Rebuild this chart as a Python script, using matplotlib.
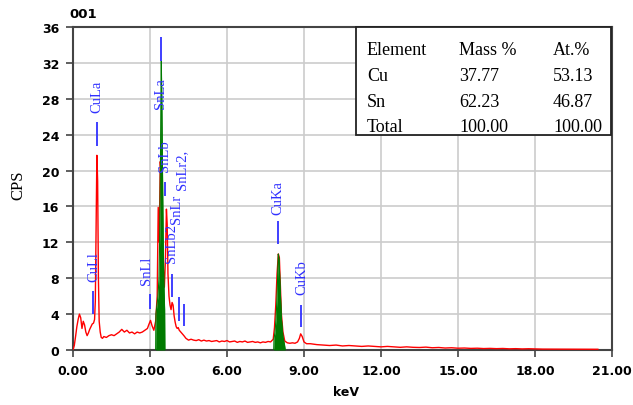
"""EDS spectrum of a Cu-Sn sample (sample 001) with element table."""

import matplotlib
matplotlib.use("Agg")
import matplotlib.pyplot as plt
from matplotlib.patches import Rectangle

spec_kev = [
    0.00, 0.05, 0.10, 0.15, 0.20, 0.25, 0.30, 0.35, 0.40, 0.45, 0.50, 0.55, 0.60,
    0.65, 0.70, 0.75, 0.80, 0.84, 0.87, 0.90, 0.93, 0.96, 0.99, 1.02, 1.06, 1.10,
    1.15, 1.20, 1.30, 1.40, 1.50, 1.60, 1.70, 1.80, 1.90, 2.00, 2.10, 2.20, 2.30,
    2.40, 2.50, 2.60, 2.70, 2.80, 2.90, 2.95, 3.02, 3.08, 3.15, 3.22, 3.28, 3.32,
    3.36, 3.40, 3.44, 3.48, 3.52, 3.56, 3.60, 3.64, 3.67, 3.70, 3.74, 3.78, 3.82,
    3.86, 3.90, 3.94, 3.98, 4.02, 4.06, 4.10, 4.14, 4.20, 4.26, 4.32, 4.40, 4.50,
    4.60, 4.70, 4.80, 4.90, 5.00, 5.10, 5.20, 5.30, 5.40, 5.50, 5.60, 5.70, 5.80,
    5.90, 6.00, 6.10, 6.20, 6.30, 6.40, 6.50, 6.60, 6.70, 6.80, 6.90, 7.00, 7.10,
    7.20, 7.30, 7.40, 7.50, 7.60, 7.70, 7.80, 7.85, 7.90, 7.95, 8.00, 8.04, 8.08,
    8.12, 8.18, 8.25, 8.35, 8.45, 8.55, 8.65, 8.75, 8.82, 8.87, 8.93, 9.00, 9.10,
    9.25, 9.50, 9.75, 10.00, 10.25, 10.50, 10.75, 11.00, 11.25, 11.50, 11.75,
    12.00, 12.25, 12.50, 12.75, 13.00, 13.25, 13.50, 13.75, 14.00, 14.25, 14.50,
    14.75, 15.00, 15.25, 15.50, 15.75, 16.00, 16.25, 16.50, 16.75, 17.00, 17.25,
    17.50, 17.75, 18.00, 18.30, 20.45,
]
spec_cps = [
    0.0, 0.5, 1.5, 2.6, 3.4, 4.0, 3.6, 2.4, 3.2, 2.8, 2.0, 1.6, 1.9,
    2.3, 2.6, 2.9, 3.0, 3.4, 5.5, 14.0, 21.7, 18.8, 8.0, 3.2, 2.0, 1.4,
    1.3, 1.5, 1.4, 1.6, 1.7, 1.6, 1.8, 2.0, 2.3, 2.0, 2.2, 1.9, 2.0,
    1.8, 2.0, 1.9, 2.0, 2.2, 2.4, 2.8, 3.3, 2.7, 2.2, 3.2, 6.0, 15.9,
    12.0, 21.0, 19.5, 8.0, 9.0, 7.0, 10.0, 15.7, 14.0, 8.5, 6.0, 5.0, 4.5,
    5.3, 5.0, 3.8, 3.1, 2.6, 2.4, 2.5, 2.2, 2.0, 1.8, 1.6, 1.3, 1.1,
    1.2, 1.1, 1.05, 1.15, 1.0, 1.1, 1.0, 1.05, 0.95, 1.0, 1.05, 0.9, 1.0,
    0.95, 1.05, 0.9, 0.95, 1.0, 0.85, 0.95, 0.9, 1.0, 0.85, 0.9, 0.95, 0.85,
    0.9, 0.8, 0.9, 0.85, 0.95, 0.9, 1.2, 2.5, 5.0, 8.5, 10.7, 10.3, 7.0,
    4.0, 2.0, 1.0, 0.8, 0.75, 0.8, 0.75, 0.9, 1.3, 1.8, 1.5, 0.9, 0.7,
    0.7, 0.6, 0.55, 0.5, 0.55, 0.45, 0.5, 0.45, 0.4, 0.45, 0.4,
    0.35, 0.4, 0.35, 0.3, 0.35, 0.3, 0.28, 0.32, 0.25, 0.28, 0.22,
    0.25, 0.2, 0.22, 0.18, 0.2, 0.16, 0.18, 0.15, 0.17, 0.13, 0.15,
    0.12, 0.14, 0.12, 0.1, 0.08,
]

# fitted peaks drawn in green
snla_kev = [3.22, 3.23, 3.27, 3.31, 3.35, 3.38, 3.41, 3.43, 3.44, 3.46, 3.49, 3.52, 3.55, 3.57, 3.58]
snla_cps = [0.0, 4.0, 5.0, 6.0, 8.0, 13.0, 22.0, 30.0, 32.2, 28.0, 19.0, 11.0, 6.5, 4.5, 0.0]
cuka_kev = [7.82, 7.83, 7.87, 7.91, 7.95, 7.98, 8.00, 8.03, 8.07, 8.12, 8.18, 8.24, 8.27]
cuka_cps = [0.0, 1.2, 2.0, 3.5, 6.0, 9.0, 10.7, 10.0, 7.0, 3.5, 1.5, 0.6, 0.0]

# line markers: position, bottom and top of the blue tick
mark_kev = [0.79, 0.93, 3.00, 3.44, 3.60, 3.87, 4.13, 4.34, 8.00, 8.87]
mark_lo = [4.0, 22.7, 4.6, 32.2, 17.2, 5.9, 3.2, 2.7, 11.8, 2.6]
mark_hi = [6.6, 25.4, 6.2, 34.9, 18.7, 8.5, 5.9, 5.1, 14.4, 5.0]

# rotated labels: text, centre keV, bottom CPS
label_text = ["CuLl", "CuLa", "SnLl", "SnLa", "SnLb", "SnLb2", "SnLr", "SnLr2,", "CuKa", "CuKb"]
label_kev = [0.80, 0.93, 2.88, 3.39, 3.56, 3.82, 4.02, 4.24, 7.99, 8.92]
label_cps = [7.7, 26.5, 7.4, 27.0, 20.0, 9.8, 14.1, 18.0, 15.2, 6.2]

# quantification table
tbl_header = ["Element", "Mass %", "At.%"]
tbl_rows = [
    ["Cu", "37.77", "53.13"],
    ["Sn", "62.23", "46.87"],
    ["Total", "100.00", "100.00"],
]

x_ticks = [0, 3, 6, 9, 12, 15, 18, 21]
y_ticks = [0, 4, 8, 12, 16, 20, 24, 28, 32, 36]

W, H = 633, 406
BLUE = "#3030ff"
SERIF = "Liberation Serif"


def px(x, y):
    """pixel position in the picture -> figure fraction"""
    return x / W, 1 - y / H


fig = plt.figure(figsize=(W / 100, H / 100), dpi=100)
ax = fig.add_axes([73 / W, 1 - 351 / H, 539 / W, 323 / H])

ax.plot(spec_kev, spec_cps, color="#ff0000", lw=1.0, zorder=3)
ax.fill_between(snla_kev, snla_cps, color="#007a00", lw=0, zorder=4)
ax.plot(snla_kev, snla_cps, color="#007a00", lw=0.8, zorder=4)
ax.fill_between(cuka_kev, cuka_cps, color="#007a00", lw=0, zorder=4)
ax.plot(cuka_kev, cuka_cps, color="#007a00", lw=0.8, zorder=4)

ax.vlines(mark_kev, mark_lo, mark_hi, color=BLUE, lw=1.3, zorder=5)
for t, xk, yc in zip(label_text, label_kev, label_cps):
    ax.text(xk, yc, t, rotation=90, ha="center", va="bottom", color=BLUE,
            fontsize=10.5, family=SERIF, zorder=6)

ax.set_xlim(0, 21)
ax.set_ylim(0, 36)
ax.set_xticks(x_ticks)
ax.set_xticklabels([f"{v:.2f}" for v in x_ticks])
ax.set_yticks(y_ticks)
ax.grid(True, color="#cccccc", lw=1.2, zorder=0)
ax.set_axisbelow(True)
for s in ax.spines.values():
    s.set_color("#444444")
    s.set_linewidth(1.5)
ax.tick_params(axis="both", direction="out", length=5, width=1.2, color="#444444",
               labelsize=9, pad=5)
for lab in ax.get_xticklabels() + ax.get_yticklabels():
    lab.set_fontweight("bold")
    lab.set_family("DejaVu Sans")

# axis titles and sample name
fig.text(*px(18, 185), "CPS", rotation=90, ha="center", va="center",
         fontsize=12, family=SERIF)
fig.text(*px(346, 393), "keV", ha="center", va="center", fontsize=9,
         fontweight="bold")
fig.text(*px(69, 14), "001", ha="left", va="center", fontsize=9.5,
         fontweight="bold")

# element table
x0, y0 = px(356, 136)
x1, y1 = px(611, 28)
fig.add_artist(Rectangle((x0, y0), x1 - x0, y1 - y0, transform=fig.transFigure,
                         facecolor="white", edgecolor="#222222", lw=1.3, zorder=10))
col_x = [367, 459, 553]
row_base = [55, 81, 107, 132]
for r, row in enumerate([tbl_header] + tbl_rows):
    for c, cell in enumerate(row):
        fig.text(*px(col_x[c], row_base[r]), cell, ha="left", va="baseline",
                 fontsize=13, family=SERIF, zorder=11)

fig.savefig("out.png", dpi=100)
